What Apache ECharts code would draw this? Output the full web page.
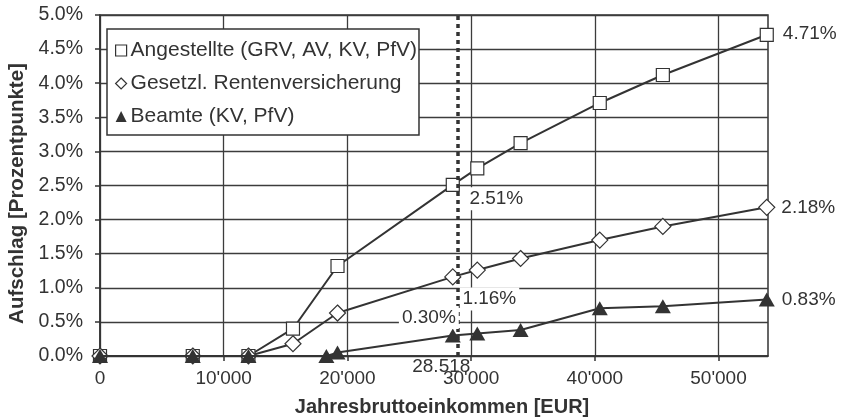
<!DOCTYPE html>
<html><head><meta charset="utf-8">
<script src="https://cdn.jsdelivr.net/npm/echarts@6/dist/echarts.min.js"></script>
<style>html,body{margin:0;padding:0;background:#fff}#c{width:842px;height:417px}</style>
</head><body><div id="c"></div>
<script>
const seriesNames = ['Angestellte (GRV, AV, KV, PfV)', 'Gesetzl. Rentenversicherung', 'Beamte (KV, PfV)'];
const incomeAngestellte = [0, 7500, 12000, 15600, 19200, 28518, 30500, 34000, 40400, 45500, 53900];
const valuesAngestellte = [0, 0, 0, 0.40, 1.32, 2.51, 2.75, 3.12, 3.71, 4.12, 4.71];
const incomeGRV = [0, 7500, 12000, 15600, 19200, 28518, 30500, 34000, 40400, 45500, 53900];
const valuesGRV = [0, 0, 0, 0.18, 0.63, 1.16, 1.26, 1.43, 1.70, 1.90, 2.18];
const incomeBeamte = [0, 7500, 12000, 18300, 19200, 28518, 30500, 34000, 40400, 45500, 53900];
const valuesBeamte = [0, 0, 0, 0, 0.05, 0.30, 0.33, 0.38, 0.70, 0.73, 0.83];
const xTickValues = [0, 10000, 20000, 30000, 40000, 50000];
const yTickValues = [0, 0.5, 1, 1.5, 2, 2.5, 3, 3.5, 4, 4.5, 5];
const cutoffIncome = 28518;
const cutoffLabel = '28.518';
const cutoffLineIncome = 28950;
const xTitle = 'Jahresbruttoeinkommen [EUR]';
const yTitle = 'Aufschlag [Prozentpunkte]';

const FONT = '"Liberation Sans", Arial, sans-serif';
const INK = '#333';
const fmtX = v => String(v).replace(/\B(?=(\d{3})+(?!\d))/g, "'");
const fmtPct = p => p.value[1].toFixed(2) + '%';

function labelFor(cfg) {
  return Object.assign({
    show: true, formatter: fmtPct, fontFamily: FONT, fontSize: 19, color: INK
  }, cfg);
}
function build(xs, ys, labels) {
  return xs.map((x, i) => {
    const item = { value: [x, ys[i]] };
    if (labels[i]) item.label = labelFor(labels[i]);
    return item;
  });
}
const boxed = { backgroundColor: '#fff', padding: [2, 3] };

const chart = echarts.init(document.getElementById('c'), null, { renderer: 'canvas' });
chart.setOption({
  animation: false,
  backgroundColor: '#fff',
  grid: { left: 100, right: 74, top: 15, bottom: 61, outerBoundsMode: 'none', containLabel: false, show: true, borderColor: INK, borderWidth: 1.5, backgroundColor: '#fff' },
  legend: {
    show: true,
    orient: 'vertical',
    left: 107, top: 29,
    backgroundColor: '#fff',
    borderColor: INK, borderWidth: 1.5, borderRadius: 0,
    padding: [11, 2, 8, 8],
    itemGap: 12,
    itemWidth: 11, itemHeight: 11,
    textStyle: { fontFamily: FONT, fontSize: 21, color: INK, padding: [0, 0, 0, -1] },
    data: [
      { name: seriesNames[0], icon: 'rect', itemStyle: { color: '#fff', borderColor: INK, borderWidth: 1.2 } },
      { name: seriesNames[1], icon: 'diamond', itemStyle: { color: '#fff', borderColor: INK, borderWidth: 1.2 } },
      { name: seriesNames[2], icon: 'triangle', itemStyle: { color: INK, borderColor: INK, borderWidth: 0 } }
    ]
  },
  xAxis: {
    type: 'value', min: 0, max: 54000, interval: 10000,
    name: xTitle, nameLocation: 'middle', nameGap: 41,
    nameTextStyle: { fontFamily: FONT, fontSize: 20, fontWeight: 'bold', color: INK, padding: [0, 0, 0, 16] },
    axisLine: { show: true, lineStyle: { color: INK, width: 1.5 } },
    axisTick: { show: true, length: 5, customValues: xTickValues, lineStyle: { color: INK, width: 1.5 } },
    axisLabel: { customValues: xTickValues, formatter: fmtX, fontFamily: FONT, fontSize: 19, color: INK, margin: 13 },
    splitLine: { show: true, lineStyle: { color: '#3c3c3c', width: 1.3 } }
  },
  yAxis: {
    type: 'value', min: 0, max: 5, interval: 0.5,
    name: yTitle, nameLocation: 'middle', nameGap: 62,
    nameTextStyle: { fontFamily: FONT, fontSize: 20.5, fontWeight: 'bold', color: INK, padding: [0, 16, 0, 0] },
    axisLine: { show: true, lineStyle: { color: INK, width: 1.5 } },
    axisTick: { show: true, length: 5, customValues: yTickValues, lineStyle: { color: INK, width: 1.5 } },
    axisLabel: { customValues: yTickValues, formatter: v => v.toFixed(1) + '%', fontFamily: FONT, fontSize: 19.5, color: INK, margin: 17 },
    splitLine: { show: true, lineStyle: { color: '#3c3c3c', width: 1.3 } }
  },
  series: [
    {
      name: seriesNames[0], type: 'line', z: 3,
      symbol: 'rect', symbolSize: 13,
      itemStyle: { color: '#fff', borderColor: INK, borderWidth: 1.2 },
      lineStyle: { color: INK, width: 2 },
      data: build(incomeAngestellte, valuesAngestellte, {
        5: Object.assign({ position: 'right', distance: 5, offset: [1.5, 14] }, boxed),
        10: { position: 'right', distance: 5, offset: [4, -1.5] }
      })
    },
    {
      name: seriesNames[1], type: 'line', z: 4,
      symbol: 'diamond', symbolSize: 16,
      itemStyle: { color: '#fff', borderColor: INK, borderWidth: 1.2 },
      lineStyle: { color: INK, width: 2 },
      data: build(incomeGRV, valuesGRV, {
        5: Object.assign({ position: 'right', distance: 5, offset: [-7, 22] }, boxed),
        10: { position: 'right', distance: 5, offset: [1, 0] }
      })
    },
    {
      name: seriesNames[2], type: 'line', z: 5,
      symbol: 'triangle', symbolSize: [16, 14],
      itemStyle: { color: INK, borderColor: INK, borderWidth: 0 },
      lineStyle: { color: INK, width: 2 },
      data: build(incomeBeamte, valuesBeamte, {
        5: Object.assign({ position: 'left', distance: 5, offset: [19, -18] }, boxed),
        10: { position: 'right', distance: 5, offset: [2, 0] }
      }),
      markLine: {
        silent: true, symbol: 'none', animation: false,
        lineStyle: { color: INK, width: 3.5, type: [4, 4] },
        label: { show: false },
        data: [{ xAxis: cutoffLineIncome }]
      }
    },
    {
      name: 'cutoff', type: 'scatter', z: 6, silent: true,
      symbolSize: 0,
      itemStyle: { opacity: 1 },
      data: [[cutoffIncome, 0]],
      label: { show: true, opacity: 1, position: 'bottom', distance: 1, offset: [-11.5, 0], formatter: cutoffLabel, fontFamily: FONT, fontSize: 19, color: INK }
    }
  ]
});
</script>
</body></html>
